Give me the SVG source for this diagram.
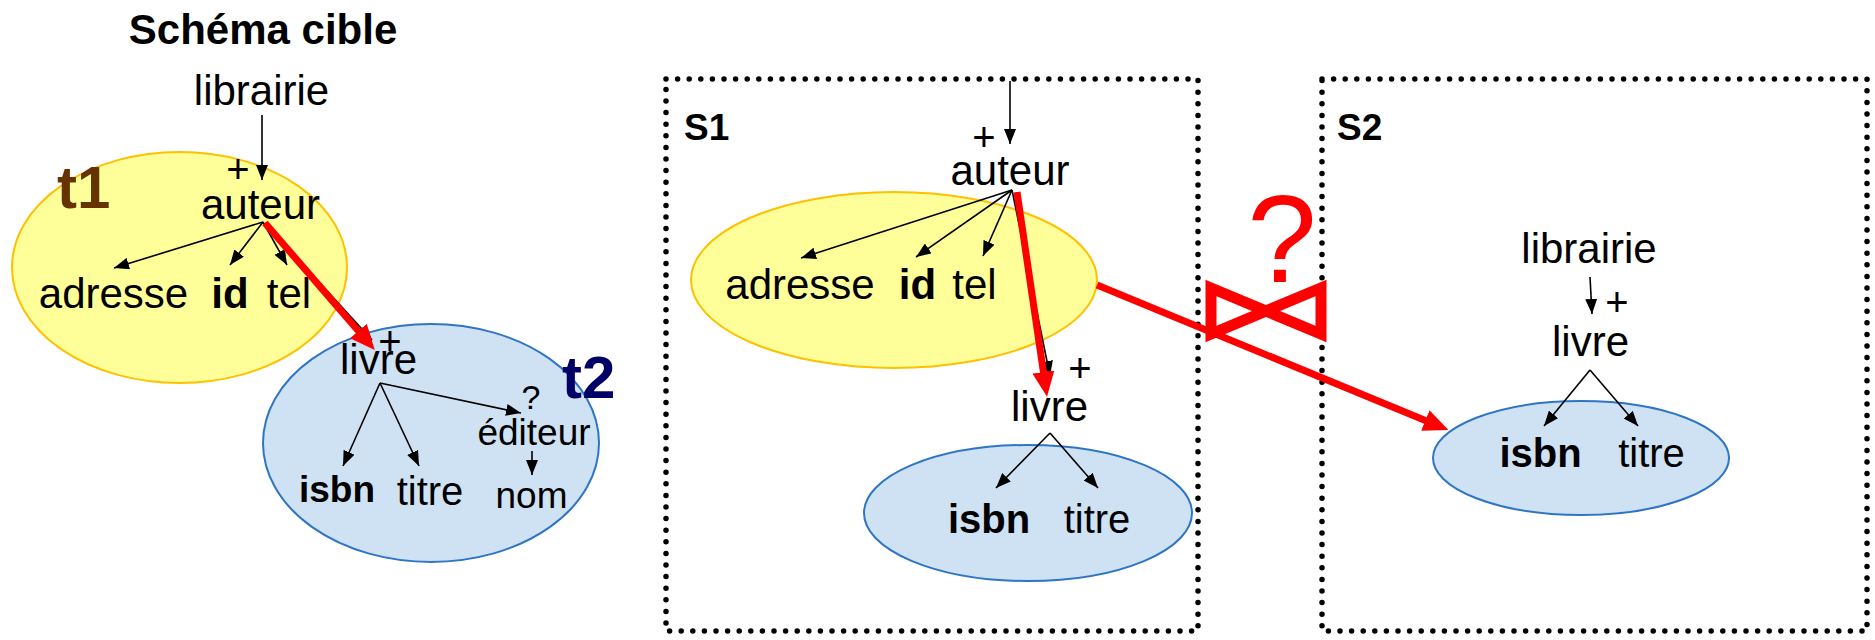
<svg xmlns="http://www.w3.org/2000/svg" width="1875" height="640" viewBox="0 0 1875 640">
  <style>
    text { font-family: "Liberation Sans", Arial, sans-serif; fill: #000; }
    .lbl { font-size: 42px; text-anchor: middle; }
    .sm { font-size: 37px; text-anchor: middle; }
    .key { font-weight: bold; }
    .plus { font-size: 40px; text-anchor: middle; }
    .title { font-size: 42px; font-weight: bold; text-anchor: middle; }
    .box-label { font-size: 37px; font-weight: bold; }
    .yellow { fill: #FFFF99; stroke: #FFC000; stroke-width: 2; }
    .blue { fill: #CFE2F3; stroke: #2E75C6; stroke-width: 2; }
    .edge { stroke: #000; stroke-width: 1.6; fill: none; marker-end: url(#arrow); }
    .map { stroke: #FF0000; stroke-width: 7; fill: none; marker-end: url(#redArrow); }
    .frame { fill: none; stroke: #000; stroke-width: 5.5; stroke-linecap: round; stroke-dasharray: 0 11.6; }
  </style>
  <defs>
    <marker id="arrow" markerUnits="userSpaceOnUse" markerWidth="16" markerHeight="12" refX="15" refY="6" orient="auto">
      <path d="M0,0 L15,6 L0,12 z" fill="#000"/>
    </marker>
    <marker id="redArrow" markerUnits="userSpaceOnUse" markerWidth="26" markerHeight="22" refX="4" refY="11" orient="auto">
      <path d="M0,0 L25,11 L0,22 z" fill="#FF0000"/>
    </marker>
  </defs>

  <!-- target schema -->
  <g id="target-title">
    <text class="title" x="263" y="44">Schéma cible</text>
  </g>
  <g id="t1">
    <ellipse class="yellow" cx="179.5" cy="267.5" rx="167.5" ry="115.5"/>
    <text x="57" y="208" style="font-size:60px;font-weight:bold;fill:#663300">t1</text>
  </g>
  <g id="t2">
    <ellipse class="blue" cx="431" cy="443" rx="168" ry="119"/>
    <text x="562" y="398" style="font-size:60px;font-weight:bold;fill:#000066">t2</text>
  </g>
  <g id="target-librairie"><text class="lbl" x="261.5" y="105">librairie</text></g>
  <g id="target-auteur">
    <text class="plus" x="238" y="183">+</text>
    <text class="lbl" x="260.5" y="219">auteur</text>
  </g>
  <g id="target-adresse"><text class="lbl" x="113.5" y="308">adresse</text></g>
  <g id="target-id"><text class="lbl key" x="230" y="308">id</text></g>
  <g id="target-tel"><text class="lbl" x="289" y="308">tel</text></g>
  <g id="target-livre">
    <text class="plus" x="390" y="355">+</text>
    <text class="lbl" x="378.5" y="374">livre</text>
  </g>
  <g id="target-editeur">
    <text class="sm" x="531" y="409" style="font-size:34px">?</text>
    <text class="sm" x="534" y="445">éditeur</text>
  </g>
  <g id="target-nom"><text class="sm" x="531.5" y="508">nom</text></g>
  <g id="target-isbn"><text class="sm key" x="337" y="502">isbn</text></g>
  <g id="target-titre"><text class="lbl" x="430" y="505" style="font-size:40px">titre</text></g>

  <!-- source S1 -->
  <g id="S1">
    <rect class="frame" x="666" y="79" width="532" height="552"/>
    <text class="box-label" x="684" y="140">S1</text>
  </g>
  <g id="s1-auteur-group">
    <ellipse class="yellow" cx="894" cy="280" rx="203" ry="88"/>
  </g>
  <g id="s1-auteur">
    <text class="plus" x="984" y="151">+</text>
    <text class="lbl" x="1010" y="185">auteur</text>
  </g>
  <g id="s1-adresse"><text class="lbl" x="800" y="299">adresse</text></g>
  <g id="s1-id"><text class="lbl key" x="917.5" y="299">id</text></g>
  <g id="s1-tel"><text class="lbl" x="974.5" y="299">tel</text></g>
  <g id="s1-livre-group">
    <ellipse class="blue" cx="1028" cy="513" rx="164" ry="68"/>
  </g>
  <g id="s1-livre">
    <text class="plus" x="1080" y="382">+</text>
    <text class="lbl" x="1049.5" y="421">livre</text>
  </g>
  <g id="s1-isbn"><text class="lbl key" x="989" y="533" style="font-size:40px">isbn</text></g>
  <g id="s1-titre"><text class="lbl" x="1097" y="533" style="font-size:40px">titre</text></g>

  <!-- source S2 -->
  <g id="S2">
    <rect class="frame" x="1322" y="79" width="545" height="552"/>
    <text class="box-label" x="1337" y="140">S2</text>
  </g>
  <g id="s2-librairie"><text class="lbl" x="1589" y="263">librairie</text></g>
  <g id="s2-livre">
    <text class="plus" x="1617" y="316">+</text>
    <text class="lbl" x="1590.5" y="356">livre</text>
  </g>
  <g id="s2-livre-group">
    <ellipse class="blue" cx="1581" cy="458" rx="148" ry="57"/>
  </g>
  <g id="s2-isbn"><text class="lbl key" x="1540.5" y="467" style="font-size:40px">isbn</text></g>
  <g id="s2-titre"><text class="lbl" x="1651.5" y="467" style="font-size:40px">titre</text></g>

  <!-- join between S1 and S2 -->
  <g id="join">
    <path d="M1211,288 L1321,334 L1321,288 L1211,334 Z" fill="none" stroke="#FF0000" stroke-width="11" stroke-linejoin="miter"/>
    <text x="1282" y="282" style="font-size:125px;text-anchor:middle;fill:#FF0000">?</text>
  </g>

  <!-- connectors -->
  <g id="connectors">
    <!-- target tree -->
    <line class="edge" x1="262" y1="115" x2="262" y2="180"/>
    <line class="edge" x1="263" y1="222" x2="114" y2="268"/>
    <line class="edge" x1="263" y1="222" x2="230" y2="265"/>
    <line class="edge" x1="263" y1="222" x2="287" y2="265"/>
    <line class="edge" x1="265" y1="223" x2="372" y2="340"/>
    <line class="edge" x1="380" y1="383" x2="343" y2="466"/>
    <line class="edge" x1="380" y1="383" x2="419" y2="466"/>
    <line class="edge" x1="380" y1="383" x2="521" y2="413"/>
    <line class="edge" x1="532" y1="451" x2="532" y2="475"/>
    <!-- S1 tree -->
    <line class="edge" x1="1010" y1="81" x2="1010" y2="144"/>
    <line class="edge" x1="1012" y1="190" x2="801" y2="258"/>
    <line class="edge" x1="1012" y1="190" x2="916" y2="257"/>
    <line class="edge" x1="1012" y1="190" x2="983" y2="256"/>
    <line class="edge" x1="1012" y1="190" x2="1050" y2="376"/>
    <line class="edge" x1="1050" y1="433" x2="996" y2="488"/>
    <line class="edge" x1="1050" y1="433" x2="1098" y2="488"/>
    <!-- S2 tree -->
    <line class="edge" x1="1590" y1="277" x2="1592" y2="314"/>
    <line class="edge" x1="1590" y1="370" x2="1544" y2="426"/>
    <line class="edge" x1="1590" y1="370" x2="1638" y2="426"/>
    <!-- mappings -->
    <line class="map" x1="265" y1="223" x2="361" y2="334"/>
    <line class="map" x1="1017" y1="192" x2="1044" y2="376"/>
    <line class="map" x1="1097" y1="285" x2="1429" y2="422"/>
  </g>
</svg>
